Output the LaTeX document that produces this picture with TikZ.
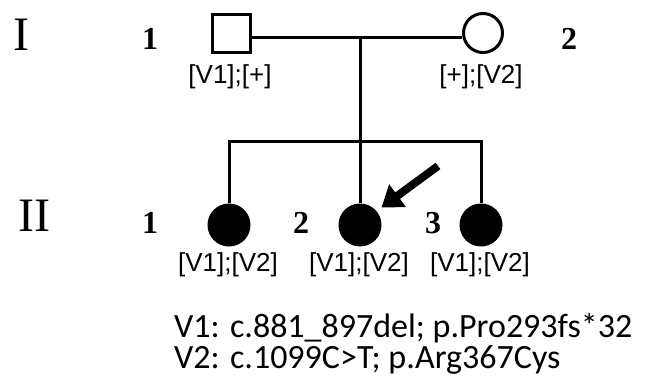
\documentclass[tikz,border=0pt]{standalone}
\usepackage{fontspec}
\setmainfont{Liberation Serif}
\setsansfont{Liberation Sans}
\newfontfamily\legfont{Carlito}
\usetikzlibrary{arrows.meta,positioning,calc}
\tikzset{
  genln/.style={font=\fontsize{48}{50}\selectfont, inner sep=0pt},
  idnum/.style={font=\fontsize{32}{34}\selectfont\bfseries, inner sep=0pt},
  geno/.style={font=\sffamily\fontsize{26}{28}\selectfont, inner sep=0pt},
  male/.style={draw, line width=3pt, minimum size=38pt, inner sep=0pt},
  female/.style={draw, circle, line width=3pt, minimum size=39pt, inner sep=0pt},
  affected/.style={circle, fill=black, minimum size=43pt, inner sep=0pt},
  lnk/.style={line width=3pt},
  proband/.style={-{Triangle[length=20pt,width=27pt]}, line width=8pt},
  legln/.style={font=\legfont\fontsize{34}{36}\selectfont, inner sep=0pt, anchor=base west},
}
\begin{document}
\begin{tikzpicture}[x=1pt, y=-1pt]
    \useasboundingbox (0,0) rectangle (646,383);
    % generation I
    \node[genln] (gI) at (21,35) {I};
    \node[idnum] (nI1) at (150,39) {1};
    \node[idnum] (nI2) at (569,39) {2};
    \node[male] (father) at (231,33) {};
    \node[female] (mother) at (483,33) {};
    \node[geno] (gfa) at (230,77) {[V1];[+]};
    \node[geno] (gmo) at (481,77) {[+];[V2]};
    % generation II
    \node[genln] (gII) at (34,216) {II};
    \node[idnum] (nII1) at (150,223) {1};
    \node[idnum] (nII2) at (301,223) {2};
    \node[idnum] (nII3) at (433,223) {3};
    \node[affected] (kid1) at (229,225) {};
    \node[affected] (kid2) at (360,225) {};
    \node[affected] (kid3) at (481,225) {};
    \node[geno] (gk1) at (228,265) {[V1];[V2]};
    \node[geno] (gk2) at (359,265) {[V1];[V2]};
    \node[geno] (gk3) at (480,265) {[V1];[V2]};
    % mating and sibship lines
    \coordinate (mate) at (360,37);
    \coordinate (sib) at (360,141);
    \draw[lnk] (father.east |- mate) -- (mother.west |- mate);
    \draw[lnk] (mate) -- (sib);
    \draw[lnk] (kid1.north) -- (kid1.north |- sib) -- (kid3.north |- sib) -- (kid3.north);
    \draw[lnk] (sib) -- (kid2.north);
    % proband arrow
    \coordinate (pointer) at (438,166);
    \draw[proband, shorten >=6pt] (pointer) -- (kid2.40);
    % variant legend
    \node[legln] (legA) at (174,337) {V1: c.881\_897del; p.Pro293fs*32};
    \node[legln] (legB) at (174,368) {V2: c.1099C>T; p.Arg367Cys};
\end{tikzpicture}
\end{document}
